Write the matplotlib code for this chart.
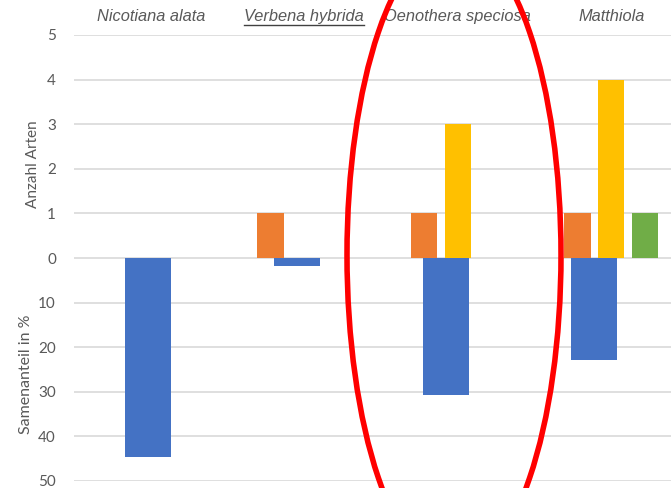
import numpy as np
import matplotlib
matplotlib.use('Agg')
import matplotlib.pyplot as plt
from matplotlib.patches import Ellipse
from matplotlib.lines import Line2D

# Arten je Pflanze (oben) und Samenanteil in % (unten)
pflanzen = ["Nicotiana alata", "Verbena hybrida", "Oenothera speciosa", "Matthiola"]
arten_orange = [0, 1, 1, 1]
arten_gelb = [0, 0, 3, 4]
arten_gruen = [0, 0, 0, 1]
samenanteil = [44.6, 1.8, 30.8, 22.8]

oben_ticks = [5, 4, 3, 2, 1, 0]
unten_ticks = [10, 20, 30, 40, 50]

blau = "#4472C4"
orange = "#ED7D31"
gelb = "#FFC000"
gruen = "#70AD47"
grau = "#595959"

fig = plt.figure(figsize=(6.71, 4.88), dpi=100)
ax = fig.add_axes([74 / 671, 7 / 488, 614 / 671, 446 / 488])

x = np.arange(len(pflanzen))
abstand = 0.22
breite = 0.17
ax.bar(x - abstand, arten_orange, breite, color=orange, linewidth=0, zorder=3)
ax.bar(x, arten_gelb, breite, color=gelb, linewidth=0, zorder=3)
ax.bar(x + abstand, arten_gruen, breite, color=gruen, linewidth=0, zorder=3)
ax.set_xlim(-0.5, 3.5)

# Samenanteil auf eigener Kategorienachse, nach unten (10 % = 1 Einheit)
ax2 = ax.twiny()
ax2.bar(x, -np.array(samenanteil) / 10, 0.31, color=blau, linewidth=0, zorder=3)
ax2.set_xlim(-0.5, -0.5 + 614 / 148.7)
ax2.set_xticks([])
for s in ax2.spines.values():
    s.set_visible(False)

ax.set_ylim(-5, 5)
yt = oben_ticks + [-v / 10 for v in unten_ticks]
ax.set_yticks(yt)
ax.set_yticklabels([str(v) for v in oben_ticks + unten_ticks], fontsize=11,
                   color=grau, fontfamily="Lato")
ax.tick_params(axis="y", length=0, pad=13)
ax.set_xticks([])
for s in ax.spines.values():
    s.set_visible(False)
ax.grid(axis="y", color="#d9d9d9", linewidth=1.2, zorder=0)
ax.set_axisbelow(True)

ax.text(-0.5 - 41 / 153.5, 2.1, "Anzahl Arten", rotation=90, ha="center", va="center",
        fontsize=11, color=grau, fontfamily="Lato", clip_on=False)
ax.text(-0.5 - 48 / 153.5, -2.6, "Samenanteil in %", rotation=90, ha="center", va="center",
        fontsize=11.5, color=grau, fontfamily="Lato", clip_on=False)

texte = []
for i, name in enumerate(pflanzen):
    t = ax.text(i, 5.42, name, ha="center", va="center", fontsize=11.8, style="italic",
                color=grau, fontfamily="Liberation Sans", clip_on=False)
    texte.append(t)

# Unterstreichung unter "Verbena hybrida"
fig.canvas.draw()
bb = texte[1].get_window_extent().transformed(fig.transFigure.inverted())
fig.add_artist(Line2D([bb.x0, bb.x1], [bb.y0 - 0.002, bb.y0 - 0.002],
                      transform=fig.transFigure, color="#404040", linewidth=1.0))

# roter Kreis um Oenothera speciosa
fig.add_artist(Ellipse((454 / 671, 1 - 255 / 488), 214 / 671, 630 / 488,
                       transform=fig.transFigure, fill=False, edgecolor="#ff0000",
                       linewidth=4, zorder=10))

fig.savefig("out.png", dpi=100)
